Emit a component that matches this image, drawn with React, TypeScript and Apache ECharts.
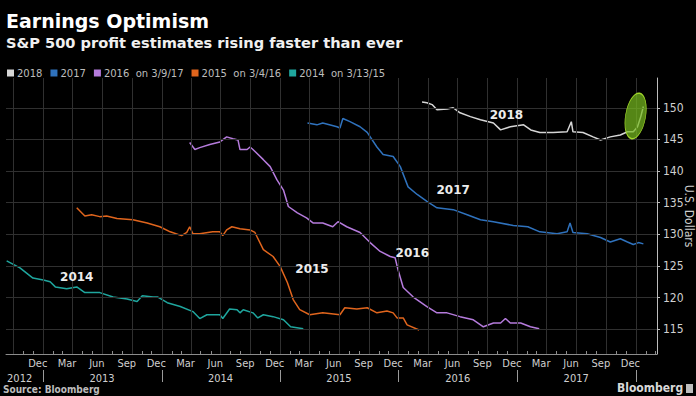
import React, { useEffect, useRef } from 'react';
import * as echarts from 'echarts';

// ---------- data ----------
const seriesNames = ['2018', '2017', '2016  on 3/9/17', '2015  on 3/4/16', '2014  on 3/13/15'];
const seriesColors = ['#d6d6d6', '#2f72bd', '#b57bdc', '#e0651d', '#1fa69e'];

const est2018: [string, number][] = [
  ['2016-03-13', 150.9], ['2016-03-28', 150.8], ['2016-04-13', 150.5], ['2016-04-28', 149.7],
  ['2016-05-29', 149.8], ['2016-06-17', 150.0], ['2016-07-08', 149.2], ['2016-08-09', 148.6],
  ['2016-09-09', 148.1], ['2016-10-19', 147.6], ['2016-11-10', 146.5], ['2016-12-10', 147.0],
  ['2017-01-20', 147.3], ['2017-02-11', 146.5], ['2017-03-11', 146.1], ['2017-04-21', 146.1],
  ['2017-06-03', 146.2], ['2017-06-16', 147.8], ['2017-06-21', 146.2], ['2017-07-22', 146.1],
  ['2017-08-22', 145.4], ['2017-09-14', 144.9], ['2017-10-14', 145.4], ['2017-11-14', 145.7],
  ['2017-12-06', 146.2], ['2017-12-24', 146.2], ['2018-01-06', 147.0], ['2018-01-16', 148.6],
  ['2018-01-24', 150.2],
];

const est2017: [string, number][] = [
  ['2015-03-26', 147.6], ['2015-04-24', 147.3], ['2015-05-12', 147.6], ['2015-06-25', 147.0],
  ['2015-07-04', 146.8], ['2015-07-13', 148.3], ['2015-08-04', 147.8], ['2015-09-04', 147.0],
  ['2015-09-26', 146.1], ['2015-10-26', 143.8], ['2015-11-14', 142.6], ['2015-12-15', 142.3],
  ['2016-01-06', 140.7], ['2016-01-30', 137.5], ['2016-02-27', 136.3], ['2016-03-28', 135.2],
  ['2016-04-28', 134.2], ['2016-06-17', 133.9], ['2016-07-30', 133.1], ['2016-09-09', 132.3],
  ['2016-10-19', 132.0], ['2016-12-19', 131.4], ['2017-02-02', 131.2], ['2017-03-11', 130.4],
  ['2017-05-03', 130.1], ['2017-06-03', 130.4], ['2017-06-12', 131.8], ['2017-06-21', 130.3],
  ['2017-08-04', 130.1], ['2017-09-14', 129.5], ['2017-10-14', 128.8], ['2017-11-14', 129.3],
  ['2017-12-06', 128.8], ['2017-12-24', 128.4], ['2018-01-09', 128.7], ['2018-01-24', 128.5],
];

const est2016: [string, number][] = [
  ['2014-03-28', 144.5], ['2014-04-13', 143.4], ['2014-04-28', 143.7], ['2014-05-29', 144.2],
  ['2014-06-29', 144.6], ['2014-07-20', 145.4], ['2014-08-08', 145.1], ['2014-08-24', 144.9],
  ['2014-08-30', 143.4], ['2014-09-21', 143.4], ['2014-09-30', 143.8], ['2014-10-09', 143.4],
  ['2014-11-10', 141.8], ['2014-12-01', 140.7], ['2014-12-22', 138.6], ['2015-01-11', 137.0],
  ['2015-01-26', 134.4], ['2015-02-23', 133.4], ['2015-03-23', 132.6], ['2015-04-12', 131.8],
  ['2015-05-12', 131.8], ['2015-06-12', 131.2], ['2015-06-28', 132.0], ['2015-07-25', 131.2],
  ['2015-09-04', 130.3], ['2015-10-05', 128.7], ['2015-11-05', 127.3], ['2015-12-06', 126.5],
  ['2015-12-21', 126.3], ['2015-12-30', 124.4], ['2016-01-15', 121.6], ['2016-02-15', 120.1],
  ['2016-03-28', 118.6], ['2016-04-28', 117.6], ['2016-05-29', 117.6], ['2016-07-08', 117.0],
  ['2016-08-18', 116.5], ['2016-09-18', 115.4], ['2016-10-19', 116.0], ['2016-11-10', 116.0],
  ['2016-11-25', 116.7], ['2016-12-10', 116.0], ['2017-01-11', 116.0], ['2017-02-10', 115.4],
  ['2017-03-09', 115.1],
];

const est2015: [string, number][] = [
  ['2013-04-14', 134.2], ['2013-05-09', 132.9], ['2013-05-30', 133.1], ['2013-06-24', 132.8],
  ['2013-07-15', 132.9], ['2013-08-16', 132.5], ['2013-10-04', 132.3], ['2013-11-17', 131.8],
  ['2013-12-26', 131.2], ['2014-01-27', 130.4], ['2014-03-03', 129.8], ['2014-03-19', 130.3],
  ['2014-03-28', 131.2], ['2014-04-07', 130.1], ['2014-04-28', 130.1], ['2014-06-07', 130.4],
  ['2014-06-29', 130.4], ['2014-07-08', 129.8], ['2014-07-20', 130.7], ['2014-08-05', 131.2],
  ['2014-08-30', 130.9], ['2014-09-30', 130.7], ['2014-10-15', 130.3], ['2014-11-10', 127.6],
  ['2014-12-10', 126.5], ['2015-01-01', 124.9], ['2015-01-23', 122.4], ['2015-02-10', 119.7],
  ['2015-03-02', 118.1], ['2015-04-02', 117.3], ['2015-05-12', 117.6], ['2015-07-04', 117.3],
  ['2015-07-19', 118.4], ['2015-08-25', 118.2], ['2015-09-26', 118.4], ['2015-10-26', 117.6],
  ['2015-11-26', 117.9], ['2015-12-15', 117.6], ['2015-12-27', 116.8], ['2016-01-15', 116.8],
  ['2016-01-27', 115.7], ['2016-03-04', 114.9],
];

const est2014: [string, number][] = [
  ['2012-09-10', 125.8], ['2012-10-21', 124.7], ['2012-11-30', 123.1], ['2013-01-01', 122.8],
  ['2013-01-22', 122.5], ['2013-02-07', 121.7], ['2013-03-14', 121.4], ['2013-04-14', 121.7],
  ['2013-05-09', 120.8], ['2013-06-24', 120.8], ['2013-08-04', 120.1], ['2013-09-16', 119.8],
  ['2013-10-17', 119.4], ['2013-11-02', 120.3], ['2013-12-05', 120.1], ['2013-12-20', 120.1],
  ['2014-01-18', 119.2], ['2014-02-27', 118.6], ['2014-04-07', 117.8], ['2014-04-28', 116.7],
  ['2014-05-20', 117.3], ['2014-06-29', 117.3], ['2014-07-08', 116.7], ['2014-07-29', 118.2],
  ['2014-08-21', 118.1], ['2014-08-30', 117.6], ['2014-09-09', 118.1], ['2014-10-09', 117.6],
  ['2014-10-24', 116.8], ['2014-11-10', 117.3], ['2014-12-10', 117.0], ['2015-01-11', 116.5],
  ['2015-02-02', 115.4], ['2015-03-13', 115.1],
];

const allSeries = [est2018, est2017, est2016, est2015, est2014];

// in-chart series labels: [date, value, text]
const seriesLabels: [string, number, string][] = [
  ['2016-11-28', 148.9, '2018'],
  ['2016-06-17', 137.0, '2017'],
  ['2016-02-12', 127.1, '2016'],
  ['2015-04-09', 124.6, '2015'],
  ['2013-04-14', 123.3, '2014'],
];

// highlight ellipse around the latest 2018 estimate jump
const highlight: [string, number] = ['2017-12-31', 148.7];

// axes
const xMin = '2012-09-08';
const xMax = '2018-03-07';
const yMin = 111.1;
const yMax = 154.7;
const yTicks = [115, 120, 125, 130, 135, 140, 145, 150];
const yAxisTitle = 'U.S. Dollars';
const quarterGrid = [
  '2012-10-01', '2013-01-01', '2013-04-01', '2013-07-01', '2013-10-01',
  '2014-01-01', '2014-04-01', '2014-07-01', '2014-10-01',
  '2015-01-01', '2015-04-01', '2015-07-01', '2015-10-01',
  '2016-01-01', '2016-04-01', '2016-07-01', '2016-10-01',
  '2017-01-01', '2017-04-01', '2017-07-01', '2017-10-01', '2018-01-01',
];
const monthLabelDates = [
  '2012-12-15',
  '2013-03-15', '2013-06-15', '2013-09-15', '2013-12-15',
  '2014-03-15', '2014-06-15', '2014-09-15', '2014-12-15',
  '2015-03-15', '2015-06-15', '2015-09-15', '2015-12-15',
  '2016-03-15', '2016-06-15', '2016-09-15', '2016-12-15',
  '2017-03-15', '2017-06-15', '2017-09-15', '2017-12-15',
];
const monthNames = ['Jan', 'Feb', 'Mar', 'Apr', 'May', 'Jun', 'Jul', 'Aug', 'Sep', 'Oct', 'Nov', 'Dec'];
const yearLabels: [string, string][] = [
  ['2012-10-20', '2012'], ['2013-07-01', '2013'], ['2014-07-01', '2014'],
  ['2015-07-01', '2015'], ['2016-07-01', '2016'], ['2017-07-01', '2017'],
];
const yearSeparators = ['2013-01-01', '2014-01-01', '2015-01-01', '2016-01-01', '2017-01-01', '2018-01-01'];

// ---------- helpers ----------
const t = (s: string) => new Date(s + 'T00:00:00').getTime();
const monthTicks: number[] = [];
for (let y = 2012; y <= 2018; y++) {
  for (let m = 0; m < 12; m++) {
    const v = new Date(y, m, 1).getTime();
    if (v >= t(xMin) && v <= t(xMax)) monthTicks.push(v);
  }
}

const AXIS_FONT = '"DejaVu Sans Condensed", "DejaVu Sans", sans-serif';
const GRID_COLOR = '#303030';

export default function App() {
  const ref = useRef<HTMLDivElement>(null);
  useEffect(() => {
    if (!ref.current) return;
    const chart = echarts.init(ref.current, null, { renderer: 'svg' });
    const yearLabelMap: Record<number, string> = {};
    yearLabels.forEach(([d, s]) => { yearLabelMap[t(d)] = s; });

    const gridSeries = {
      name: 'grid',
      type: 'line',
      xAxisIndex: 0,
      data: [] as any[],
      silent: true,
      z: 1,
      markLine: {
        silent: true,
        animation: false,
        symbol: ['none', 'none'],
        label: { show: false },
        lineStyle: { color: GRID_COLOR, width: 1, type: 'solid' },
        emphasis: { disabled: true },
        data: [
          ...quarterGrid.map((d) => ({ xAxis: t(d) })),
          ...yTicks.map((v) => ({ yAxis: v })),
        ],
      },
    };

    const series: any[] = allSeries.map((data, i) => ({
      name: seriesNames[i],
      type: 'line',
      xAxisIndex: 0,
      showSymbol: false,
      symbol: 'none',
      data: data.map(([d, v]) => [t(d), v]),
      lineStyle: { width: 1.5, color: seriesColors[i] },
      itemStyle: { color: seriesColors[i] },
      z: 3,
      markPoint: {
        silent: true,
        animation: false,
        data: [
          ...seriesLabels
            .filter((l) => l[2] === seriesNames[i].slice(0, 4))
            .map(([d, v, s]) => ({
              coord: [t(d), v],
              symbol: 'rect',
              symbolSize: 1,
              itemStyle: { color: 'rgba(0,0,0,0)' },
              label: {
                show: true,
                position: 'inside',
                formatter: s,
                color: '#ececec',
                fontWeight: 'bold',
                fontSize: 12,
                fontFamily: '"DejaVu Sans", sans-serif',
              },
            })),
          ...(i === 0
            ? [{
                coord: [t(highlight[0]), highlight[1]],
                symbol: 'path://M0,50 C0,22 22,0 50,0 C78,0 100,22 100,50 C100,78 78,100 50,100 C22,100 0,78 0,50 Z',
                symbolSize: [20, 46],
                symbolRotate: -10,
                itemStyle: { color: 'rgba(118,186,30,0.72)', borderColor: '#9fd62a', borderWidth: 1 },
                label: { show: false },
              }]
            : []),
        ],
      },
    }));

    const xBase = { type: 'value', min: t(xMin), max: t(xMax), position: 'bottom', scale: true };

    chart.setOption({
      animation: false,
      backgroundColor: '#000000',
      grid: { left: 6, right: 39, top: 78, bottom: 42, containLabel: false, outerBoundsMode: 'none' },
      legend: {
        data: seriesNames,
        left: 2,
        top: 63,
        icon: 'rect',
        itemWidth: 7,
        itemHeight: 7,
        itemGap: 8,
        selectedMode: false,
        textStyle: { color: '#bdbdbd', fontSize: 10, fontFamily: '"DejaVu Sans", sans-serif', padding: [0, 0, 0, -2] },
      },
      xAxis: [
        {
          ...xBase,
          axisLine: { show: true, lineStyle: { color: '#8c8c8c', width: 1 } },
          axisTick: { show: true, inside: true, length: 3, customValues: monthTicks, lineStyle: { color: '#8c8c8c' } },
          axisLabel: {
            show: true,
            customValues: monthLabelDates.map(t),
            formatter: (v: number) => monthNames[new Date(v).getMonth()],
            color: '#cfcfcf',
            fontSize: 11,
            fontFamily: AXIS_FONT,
            margin: 4,
          },
          splitLine: { show: false },
        },
        {
          ...xBase,
          offset: 16,
          axisLine: { show: false },
          axisTick: { show: true, length: 12, customValues: yearSeparators.map(t), lineStyle: { color: '#9a9a9a' } },
          axisLabel: {
            show: true,
            customValues: yearLabels.map(([d]) => t(d)),
            formatter: (v: number) => yearLabelMap[v] ?? String(new Date(v).getFullYear()),
            color: '#cfcfcf',
            fontSize: 11,
            fontFamily: AXIS_FONT,
            margin: 3,
          },
          splitLine: { show: false },
        },
      ],
      yAxis: {
        type: 'value',
        position: 'right',
        min: yMin,
        max: yMax,
        axisLine: { show: true, lineStyle: { color: '#bdbdbd' } },
        axisTick: { show: true, length: 3, customValues: yTicks, lineStyle: { color: '#bdbdbd' } },
        axisLabel: { customValues: yTicks, color: '#d0d0d0', fontSize: 12, fontFamily: AXIS_FONT, margin: 6 },
        splitLine: { show: false },
      },
      graphic: [
        {
          type: 'text', x: 6, y: 21,
          style: { text: 'Earnings Optimism', fill: '#ffffff', font: 'bold 19px "DejaVu Sans", sans-serif', verticalAlign: 'middle' },
        },
        {
          type: 'text', x: 6, y: 42,
          style: { text: 'S&P 500 profit estimates rising faster than ever', fill: '#f0f0f0', font: 'bold 14.6px "DejaVu Sans", sans-serif', verticalAlign: 'middle' },
        },
        {
          type: 'text', x: 689, y: 216, rotation: -Math.PI / 2,
          style: { text: yAxisTitle, fill: '#cfcfcf', font: '12px ' + AXIS_FONT, align: 'center', verticalAlign: 'middle' },
        },
        {
          type: 'text', x: 3, y: 389,
          style: { text: 'Source: Bloomberg', fill: '#bdbdbd', font: 'bold 10px ' + AXIS_FONT, verticalAlign: 'middle' },
        },
        {
          type: 'text', x: 617, y: 388,
          style: { text: 'Bloomberg', fill: '#d8d8d8', font: 'bold 12px ' + AXIS_FONT, verticalAlign: 'middle' },
        },
        {
          type: 'rect', shape: { x: 686, y: 384, width: 7, height: 9 },
          style: { fill: '#bdbdbd' },
        },
      ],
      series: [gridSeries, ...series],
    });
    return () => chart.dispose();
  }, []);
  return <div ref={ref} style={{ width: 696, height: 396, position: 'fixed', left: 0, top: 0, background: '#000' }} />;
}
